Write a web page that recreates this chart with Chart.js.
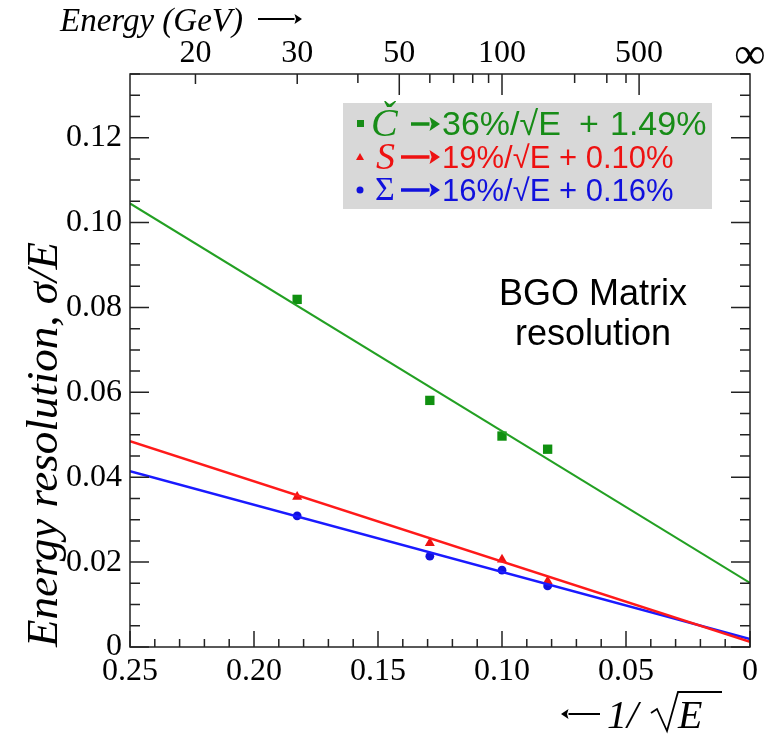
<!DOCTYPE html>
<html><head><meta charset="utf-8">
<script src="https://cdn.jsdelivr.net/npm/chart.js@4"></script>
<style>html,body{margin:0;padding:0;background:#fff;}canvas{display:block;}</style>
</head><body>
<canvas id="c" width="769" height="736"></canvas>
<script>
// 1/sqrt(E) for beam energies 30, 60, 100, 150 GeV
const invSqrtE   = [0.1826, 0.1291, 0.1000, 0.0816];
const cherenkov  = [0.0819, 0.0581, 0.0497, 0.0466];
const scint      = [0.0354, 0.0245, 0.0206, 0.0155];
const combined   = [0.0309, 0.0214, 0.0181, 0.0144];
// fit lines (end points)
const fitX       = [0.25, 0.0];
const fitC       = [0.1045, 0.0151];
const fitS       = [0.0485, 0.0012];
const fitSum     = [0.0414, 0.0019];
// tick labels
const xTickValues = [0.25, 0.20, 0.15, 0.10, 0.05, 0];
const xTickLabels = ['0.25', '0.20', '0.15', '0.10', '0.05', '0'];
const yTickValues = [0, 0.02, 0.04, 0.06, 0.08, 0.10, 0.12];
const yTickLabels = ['0', '0.02', '0.04', '0.06', '0.08', '0.10', '0.12'];
const energyLabelE = [20, 30, 50, 100, 500, Infinity];
const energyLabels = ['20', '30', '50', '100', '500', '\u221E'];
const energyMinorE = [40, 60, 70, 80, 90, 200, 300, 400];
const energyMajorE = [50, 100, 500];
const legendRows = [
  {sym: '\u010C', parts: [['36%/\u221AE', 442], ['+', 579], ['1.49%', 610]], size: 34, color: '#178c17', marker: 'rect'},
  {sym: 'S', parts: [['19%/\u221AE + 0.10%', 442]], size: 31, color: '#ee1111', marker: 'triangle'},
  {sym: '\u03A3', parts: [['16%/\u221AE + 0.16%', 442]], size: 31, color: '#1111dd', marker: 'circle'}
];

const pts = (xs, ys) => xs.map((x, i) => ({x: x, y: ys[i]}));
const SERIF = "'Liberation Serif', 'Times New Roman', serif";
const SANS = "'Liberation Sans', Arial, sans-serif";

function arrow(ctx, x1, x2, y, w, head, color, dir) {
  ctx.save();
  ctx.strokeStyle = color; ctx.fillStyle = color; ctx.lineWidth = w;
  const tip = dir > 0 ? x2 : x1, base = dir > 0 ? x2 - head * 1.5 : x1 + head * 1.5;
  ctx.beginPath();
  ctx.moveTo(dir > 0 ? x1 : x2, y); ctx.lineTo(base, y); ctx.stroke();
  ctx.beginPath();
  ctx.moveTo(tip, y); ctx.lineTo(base, y - head); ctx.lineTo(base + dir * head * 0.3, y); ctx.lineTo(base, y + head); ctx.closePath();
  ctx.fill();
  ctx.restore();
}

const decor = {
  id: 'decor',
  afterDatasetsDraw(chart) {
    const ctx = chart.ctx;
    const {left, right, top, bottom} = chart.chartArea;
    const x = chart.scales.x, y = chart.scales.y;
    ctx.save();
    ctx.strokeStyle = '#222';
    ctx.lineWidth = 1.5;
    ctx.strokeRect(left, top, right - left, bottom - top);
    ctx.beginPath();
    for (let i = 0; i <= 25; i++) {
      const px = x.getPixelForValue(i / 100);
      const len = i % 5 === 0 ? 16 : 8;
      ctx.moveTo(px, bottom); ctx.lineTo(px, bottom - len);
    }
    for (let i = 0; i <= 27; i++) {
      const py = y.getPixelForValue(i * 0.005);
      const len = i % 4 === 0 ? 19 : 10;
      ctx.moveTo(left, py); ctx.lineTo(left + len, py);
      ctx.moveTo(right, py); ctx.lineTo(right - len, py);
    }
    const topTick = (E, len) => {
      const px = x.getPixelForValue(1 / Math.sqrt(E));
      ctx.moveTo(px, top); ctx.lineTo(px, top + len);
    };
    energyLabelE.forEach(E => { if (isFinite(E)) topTick(E, energyMajorE.includes(E) ? 21 : 10); });
    energyMinorE.forEach(E => topTick(E, 9));
    ctx.stroke();

    // Top title
    ctx.fillStyle = '#000';
    ctx.font = 'italic 33px ' + SERIF;
    ctx.textBaseline = 'alphabetic'; ctx.textAlign = 'left';
    ctx.fillText('Energy (GeV)', 60, 31);
    arrow(ctx, 258, 302, 19, 2, 5, '#000', 1);

    // Bottom label  <- 1/sqrt(E)
    arrow(ctx, 561, 600, 714, 2, 5, '#000', -1);
    ctx.font = 'italic 40px ' + SERIF;
    ctx.fillText('1/', 607, 728);
    ctx.fillText('E', 678, 728);
    ctx.lineWidth = 1.8; ctx.strokeStyle = '#000';
    ctx.beginPath();
    ctx.moveTo(651, 713); ctx.lineTo(657, 709); ctx.lineTo(667, 731); ctx.lineTo(678, 692); ctx.lineTo(722, 692);
    ctx.stroke();

    // BGO text
    ctx.font = '36px ' + SANS;
    ctx.textAlign = 'center';
    ctx.fillText('BGO Matrix', 593, 305);
    ctx.fillText('resolution', 593, 345);

    // Legend box
    ctx.fillStyle = '#d8d8d8';
    ctx.fillRect(343, 103, 369, 106);
    legendRows.forEach((r, i) => {
      const base = 135 + i * 33;
      const my = base - 11;
      ctx.fillStyle = r.color;
      if (r.marker === 'rect') ctx.fillRect(357, my - 4, 7, 7);
      else if (r.marker === 'triangle') { ctx.beginPath(); ctx.moveTo(360, my - 4); ctx.lineTo(364, my + 3); ctx.lineTo(356, my + 3); ctx.closePath(); ctx.fill(); }
      else { ctx.beginPath(); ctx.arc(360, my, 3.5, 0, Math.PI * 2); ctx.fill(); }
      ctx.textAlign = 'left';
      if (r.sym === '\u03A3') { ctx.font = '34px ' + SERIF; ctx.fillText(r.sym, 375, base - 1); }
      else if (r.sym === 'S') { ctx.font = 'italic 38px ' + SERIF; ctx.fillText(r.sym, 376, base + 1); }
      else { ctx.font = 'italic 40px ' + SERIF; ctx.fillText(r.sym, 371, base + 1); }
      arrow(ctx, r.sym === '\u010C' ? 411 : 401, 440, my, 3.5, 7, r.color, 1);
      ctx.font = r.size + 'px ' + SANS;
      r.parts.forEach(p => ctx.fillText(p[0], p[1], base));
    });
    ctx.restore();
  }
};

new Chart(document.getElementById('c'), {
  type: 'scatter',
  data: {datasets: [
    {data: pts(fitX, fitC), showLine: true, borderColor: '#23a023', borderWidth: 2, pointRadius: 0},
    {data: pts(fitX, fitS), showLine: true, borderColor: '#ff1a1a', borderWidth: 2.5, pointRadius: 0},
    {data: pts(fitX, fitSum), showLine: true, borderColor: '#1a1aff', borderWidth: 2.5, pointRadius: 0},
    {data: pts(invSqrtE, cherenkov), pointStyle: 'rect', pointRadius: 6.6, backgroundColor: '#109010', borderWidth: 0},
    {data: pts(invSqrtE, scint), pointStyle: 'triangle', pointRadius: 5.8, backgroundColor: '#ee1111', borderWidth: 0},
    {data: pts(invSqrtE, combined), pointStyle: 'circle', pointRadius: 4.4, backgroundColor: '#1111dd', borderWidth: 0}
  ]},
  options: {
    responsive: false, animation: false, devicePixelRatio: 1,
    layout: {padding: {left: 0, right: 19, top: 0, bottom: 0}},
    plugins: {legend: {display: false}, tooltip: {enabled: false}},
    scales: {
      x: {
        type: 'linear', position: 'bottom', min: 0, max: 0.25, reverse: true,
        afterBuildTicks: s => { s.ticks = xTickValues.map(v => ({value: v})); },
        afterFit: s => { s.height = 89; },
        grid: {display: false, drawTicks: false}, border: {display: false},
        ticks: {autoSkip: false, maxRotation: 0, padding: 5, color: '#000',
          font: {family: SERIF, size: 32},
          callback: (v, i) => xTickLabels[i]}
      },
      xTop: {
        type: 'linear', position: 'top', min: 0, max: 0.25, reverse: true,
        afterBuildTicks: s => { s.ticks = energyLabelE.map(E => ({value: 1 / Math.sqrt(E)})); },
        afterFit: s => { s.height = 74; },
        grid: {display: false, drawTicks: false}, border: {display: false},
        ticks: {autoSkip: false, maxRotation: 0, padding: 1, color: '#000',
          font: c => c.index === 5 ? {family: SERIF, size: 44, lineHeight: 0.77} : {family: SERIF, size: 32},
          callback: (v, i) => energyLabels[i]}
      },
      y: {
        type: 'linear', position: 'left', min: 0, max: 0.135,
        afterBuildTicks: s => { s.ticks = yTickValues.map(v => ({value: v})); },
        afterFit: s => { s.width = 130; },
        grid: {display: false, drawTicks: false}, border: {display: false},
        ticks: {autoSkip: false, padding: 8, color: '#000',
          font: {family: SERIF, size: 32},
          callback: (v, i) => yTickLabels[i]},
        title: {display: true, text: 'Energy resolution, \u03C3/E', align: 'start', color: '#000',
          font: {family: SERIF, size: 45, style: 'italic'}, padding: {top: 18, bottom: 0}}
      }
    }
  },
  plugins: [decor]
});
</script>
</body></html>
